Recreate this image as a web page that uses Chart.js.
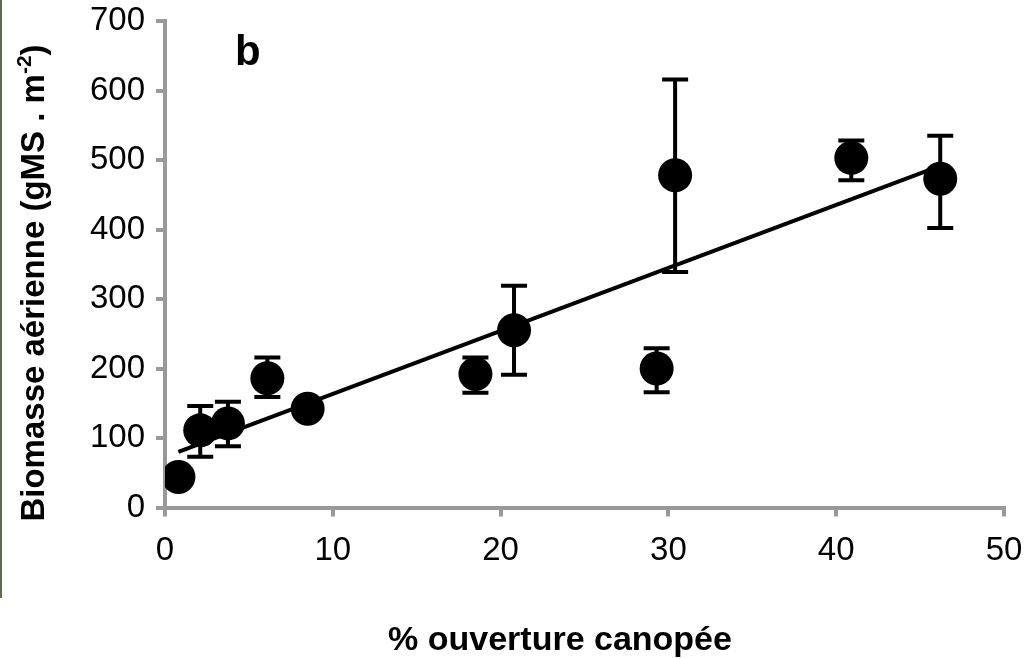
<!DOCTYPE html>
<html>
<head>
<meta charset="utf-8">
<script src="https://cdn.jsdelivr.net/npm/chart.js@4"></script>
<style>
  body { margin: 0; background: #fff; }
  #wrap { position: relative; width: 1028px; height: 659px; }
  #edge { position: absolute; left: 0; top: 0; width: 2px; height: 598px; background: #5d6b52; }
</style>
</head>
<body>
<div id="wrap">
  <canvas id="myChart" width="1028" height="659"></canvas>
  <div id="edge"></div>
</div>
<script>
// data
var openness = [0.8, 2.1, 3.75, 6.1, 8.5, 18.5, 20.8, 29.3, 30.4, 40.9, 46.2];
var biomass = [44, 111, 121, 186, 142, 192, 255, 200, 478, 503, 473];
var errLow = [null, 73, 88, 159, null, 165, 191, 166, 339, 471, 402];
var errHigh = [null, 146, 152, 216, null, 216, 319, 229, 616, 528, 535];
// regression line end points
var trendX = [0.8, 45.8];
var trendY = [80, 488];
var xTicks = [0, 10, 20, 30, 40, 50];
var yTicks = [0, 100, 200, 300, 400, 500, 600, 700];

var axisGrey = "#999999";
var font = "'Liberation Sans', Arial, sans-serif";

// error bars, drawn under the points
var errorBars = {
  id: "errorBars",
  beforeDatasetsDraw: function (chart) {
    var ctx = chart.ctx;
    var xs = chart.scales.x;
    var ys = chart.scales.y;
    ctx.save();
    ctx.strokeStyle = "#000";
    ctx.lineWidth = 4;
    for (var i = 0; i < openness.length; i++) {
      if (errLow[i] == null) continue;
      var px = xs.getPixelForValue(openness[i]);
      var lo = ys.getPixelForValue(errLow[i]);
      var hi = ys.getPixelForValue(errHigh[i]);
      ctx.beginPath();
      ctx.moveTo(px, lo);
      ctx.lineTo(px, hi);
      ctx.moveTo(px - 13, lo);
      ctx.lineTo(px + 13, lo);
      ctx.moveTo(px - 13, hi);
      ctx.lineTo(px + 13, hi);
      ctx.stroke();
    }
    ctx.restore();
  },
};

// axis titles and panel letter
var labels = {
  id: "labels",
  afterDraw: function (chart) {
    var ctx = chart.ctx;
    ctx.save();
    ctx.fillStyle = "#000";

    ctx.font = "bold 42px " + font;
    ctx.textAlign = "left";
    ctx.textBaseline = "alphabetic";
    ctx.fillText("b", 235, 65);

    ctx.font = "bold 34px " + font;
    ctx.textAlign = "center";
    ctx.fillText("% ouverture canopée", 560, 650);

    // y title with superscript
    var main = "Biomasse aérienne (gMS . m";
    var sup = "-2";
    var end = ")";
    ctx.font = "bold 33px " + font;
    var w1 = ctx.measureText(main).width;
    var w3 = ctx.measureText(end).width;
    ctx.font = "bold 21px " + font;
    var w2 = ctx.measureText(sup).width;
    var total = w1 + w2 + w3;
    ctx.translate(44, 283);
    ctx.rotate(-Math.PI / 2);
    ctx.textAlign = "left";
    var sx = -total / 2;
    ctx.font = "bold 33px " + font;
    ctx.fillText(main, sx, 0);
    ctx.font = "bold 21px " + font;
    ctx.fillText(sup, sx + w1, -13);
    ctx.font = "bold 33px " + font;
    ctx.fillText(end, sx + w1 + w2, 0);
    ctx.restore();
  },
};

var ctx = document.getElementById("myChart").getContext("2d");

var myChart = new Chart(ctx, {
  type: "scatter",
  data: {
    datasets: [
      {
        label: "Biomasse",
        data: openness.map(function (x, i) { return { x: x, y: biomass[i] }; }),
        backgroundColor: "#000",
        borderWidth: 0,
        pointRadius: 17,
        pointHoverRadius: 17,
        order: 0,
      },
      {
        type: "line",
        label: "Tendance",
        data: trendX.map(function (x, i) { return { x: x, y: trendY[i] }; }),
        borderColor: "#000",
        borderWidth: 4,
        pointRadius: 0,
        fill: false,
        order: 1,
      },
    ],
  },
  options: {
    responsive: false,
    animation: false,
    layout: { padding: { top: 21, right: 24, left: 0, bottom: 0 } },
    plugins: {
      legend: { display: false },
      tooltip: { enabled: false },
    },
    scales: {
      x: {
        type: "linear",
        min: 0,
        max: 50,
        afterBuildTicks: function (axis) {
          axis.ticks = xTicks.map(function (v) { return { value: v }; });
        },
        afterFit: function (axis) {
          axis.height = 151.5;
          axis.paddingLeft = 0;
          axis.paddingRight = 0;
        },
        border: { color: axisGrey, width: 4 },
        grid: {
          drawOnChartArea: false,
          drawTicks: true,
          tickLength: 9,
          color: axisGrey,
          lineWidth: 4,
        },
        ticks: {
          color: "#000",
          padding: 15,
          maxRotation: 0,
          font: { family: font, size: 33 },
        },
      },
      y: {
        type: "linear",
        min: 0,
        max: 700,
        afterBuildTicks: function (axis) {
          axis.ticks = yTicks.map(function (v) { return { value: v }; });
        },
        afterFit: function (axis) {
          axis.width = 165;
          axis.paddingTop = 0;
          axis.paddingBottom = 0;
        },
        border: { color: axisGrey, width: 4 },
        grid: {
          drawOnChartArea: false,
          drawTicks: true,
          tickLength: 9,
          color: axisGrey,
          lineWidth: 4,
        },
        ticks: {
          color: "#000",
          padding: 11,
          font: { family: font, size: 33 },
        },
      },
    },
  },
  plugins: [errorBars, labels],
});
</script>
</body>
</html>
